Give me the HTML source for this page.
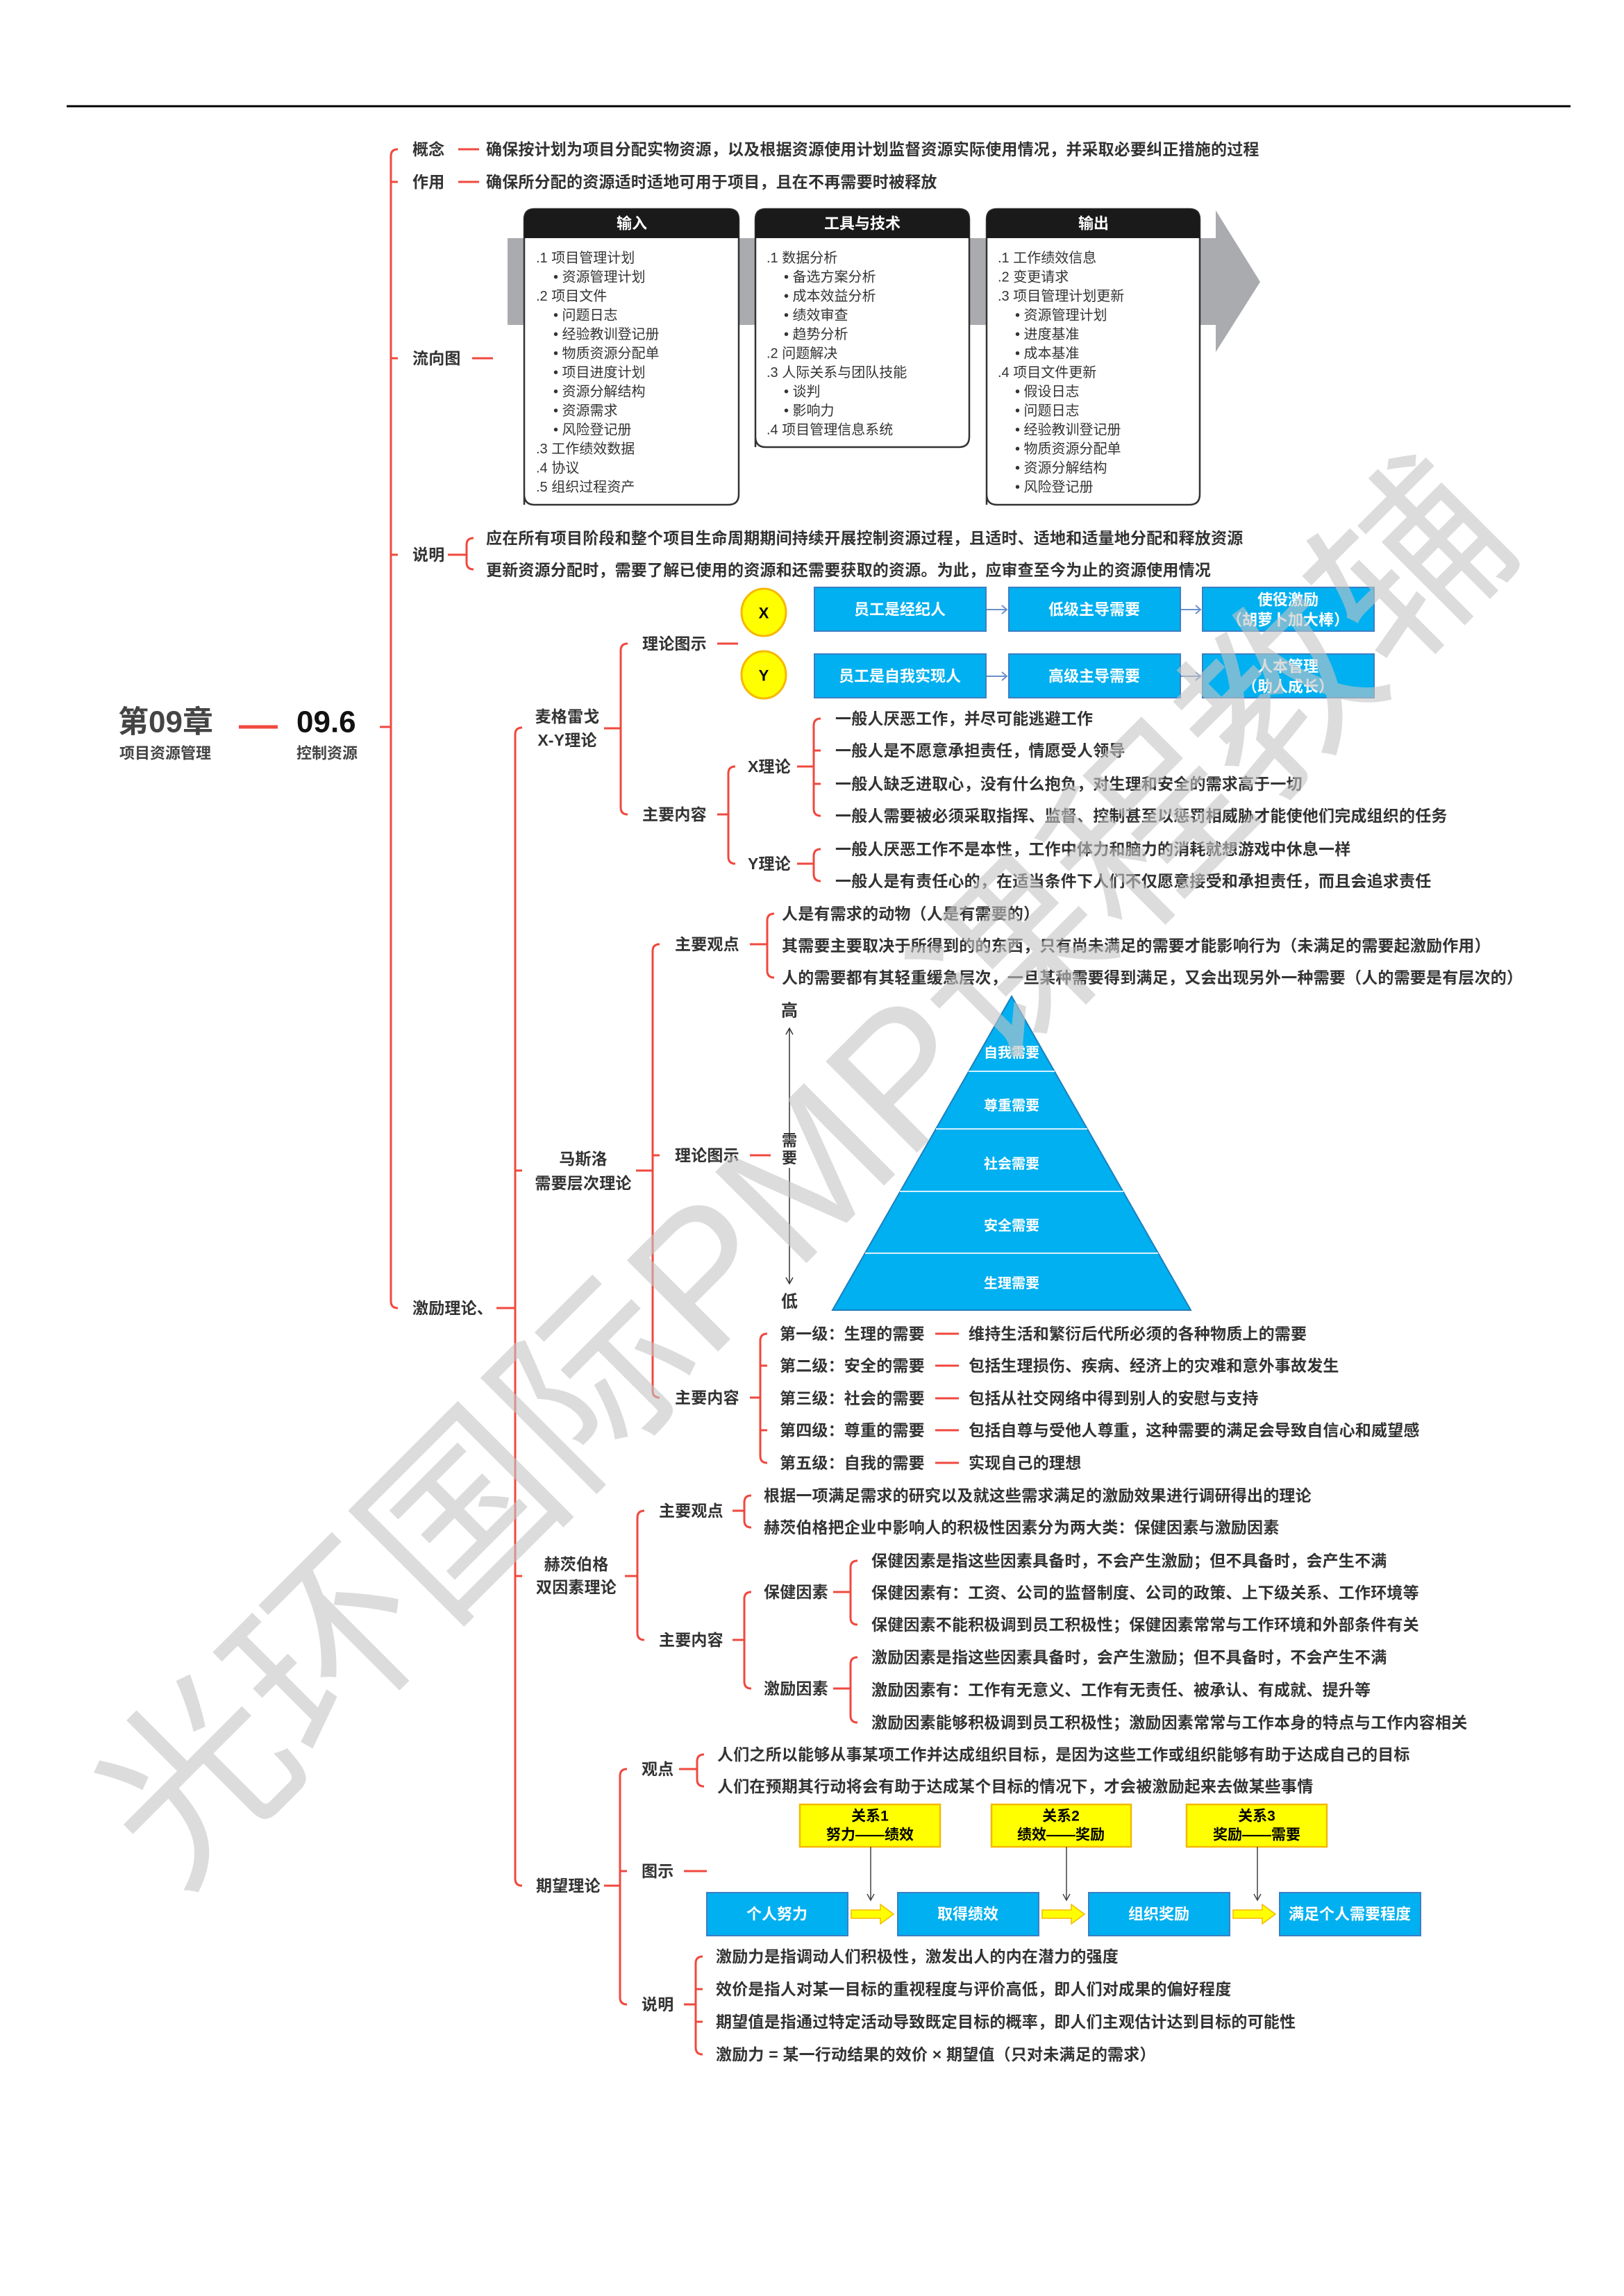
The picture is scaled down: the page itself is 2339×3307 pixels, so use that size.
<!DOCTYPE html>
<html><head><meta charset="utf-8"><style>
html,body{margin:0;padding:0;background:#fff;}
svg{display:block;}
text{font-family:"Liberation Sans","Noto Sans CJK SC",sans-serif;}
.t{font-size:23px;fill:#333;font-weight:bold;letter-spacing:0.2px;dominant-baseline:central;}
.s{font-size:20px;fill:#333;dominant-baseline:central;}
.w{font-size:22px;fill:#fff;font-weight:bold;dominant-baseline:central;text-anchor:middle;}
.k{font-size:22px;fill:#000;font-weight:bold;dominant-baseline:central;text-anchor:middle;}
.r{stroke:#f0483e;stroke-width:3;fill:none;}
</style></head><body>
<svg width="2339" height="3307" viewBox="0 0 2339 3307" xmlns="http://www.w3.org/2000/svg">
<line x1="96" y1="153" x2="2262" y2="153" stroke="#000" stroke-width="3"/>

<!-- root -->
<text x="170" y="1040" style="font-size:44px;font-weight:bold;fill:#444;dominant-baseline:central">第09章</text>
<text x="172" y="1085" style="font-size:22px;font-weight:bold;fill:#444;dominant-baseline:central">项目资源管理</text>
<line x1="344" y1="1047" x2="400" y2="1047" stroke="#f0483e" stroke-width="5"/>
<text x="427" y="1040" style="font-size:44px;font-weight:bold;fill:#111;dominant-baseline:central">09.6</text>
<text x="427" y="1085" style="font-size:22px;font-weight:bold;fill:#444;dominant-baseline:central">控制资源</text>
<line x1="547" y1="1047" x2="563" y2="1047" class="r"/>

<!-- main bracket -->
<path class="r" d="M573 215 Q563 215 563 225 V1874 Q563 1884 573 1884"/>
<line class="r" x1="563" y1="262" x2="573" y2="262"/>
<line class="r" x1="563" y1="516" x2="573" y2="516"/>
<line class="r" x1="563" y1="799" x2="573" y2="799"/>
<text class="t" x="594" y="215">概念</text>
<line class="r" x1="660" y1="215" x2="690" y2="215"/>
<text class="t" x="700" y="215">确保按计划为项目分配实物资源，以及根据资源使用计划监督资源实际使用情况，并采取必要纠正措施的过程</text>
<text class="t" x="594" y="262">作用</text>
<line class="r" x1="660" y1="262" x2="690" y2="262"/>
<text class="t" x="700" y="262">确保所分配的资源适时适地可用于项目，且在不再需要时被释放</text>
<text class="t" x="594" y="516">流向图</text>
<line class="r" x1="680" y1="516" x2="710" y2="516"/>
<text class="t" x="594" y="799">说明</text>
<line class="r" x1="645" y1="799" x2="672" y2="799"/>
<path class="r" d="M682 775 Q672 775 672 785 V810 Q672 820 682 820"/>
<text class="t" x="700" y="775">应在所有项目阶段和整个项目生命周期期间持续开展控制资源过程，且适时、适地和适量地分配和释放资源</text>
<text class="t" x="700" y="821">更新资源分配时，需要了解已使用的资源和还需要获取的资源。为此，应审查至今为止的资源使用情况</text>

<!-- flow diagram -->
<polygon points="731,343 1751,343 1751,303 1815,406 1751,507 1751,468 731,468" fill="#a9abae"/>
<g>
<path d="M755 727 V316 Q755 301 770 301 H1049 Q1064 301 1064 316 V712 Q1064 727 1049 727 H770 Q755 727 755 712 Z" fill="#fff" stroke="#333" stroke-width="2.5"/>
<path d="M755 343 V316 Q755 301 770 301 H1049 Q1064 301 1064 316 V343 Z" fill="#1a1a1a"/>
<text class="w" x="910" y="322">输入</text>
<path d="M1088 644 V316 Q1088 301 1103 301 H1381 Q1396 301 1396 316 V629 Q1396 644 1381 644 H1103 Q1088 644 1088 629 Z" fill="#fff" stroke="#333" stroke-width="2.5"/>
<path d="M1088 343 V316 Q1088 301 1103 301 H1381 Q1396 301 1396 316 V343 Z" fill="#1a1a1a"/>
<text class="w" x="1242" y="322">工具与技术</text>
<path d="M1421 727 V316 Q1421 301 1436 301 H1713 Q1728 301 1728 316 V712 Q1728 727 1713 727 H1436 Q1421 727 1421 712 Z" fill="#fff" stroke="#333" stroke-width="2.5"/>
<path d="M1421 343 V316 Q1421 301 1436 301 H1713 Q1728 301 1728 316 V343 Z" fill="#1a1a1a"/>
<text class="w" x="1575" y="322">输出</text>
</g>
<g>
<text class="s" x="772" y="372">.1 项目管理计划</text>
<text class="s" x="797" y="399.5">• 资源管理计划</text>
<text class="s" x="772" y="427">.2 项目文件</text>
<text class="s" x="797" y="454.5">• 问题日志</text>
<text class="s" x="797" y="482">• 经验教训登记册</text>
<text class="s" x="797" y="509.5">• 物质资源分配单</text>
<text class="s" x="797" y="537">• 项目进度计划</text>
<text class="s" x="797" y="564.5">• 资源分解结构</text>
<text class="s" x="797" y="592">• 资源需求</text>
<text class="s" x="797" y="619.5">• 风险登记册</text>
<text class="s" x="772" y="647">.3 工作绩效数据</text>
<text class="s" x="772" y="674.5">.4 协议</text>
<text class="s" x="772" y="702">.5 组织过程资产</text>

<text class="s" x="1104" y="372">.1 数据分析</text>
<text class="s" x="1129" y="399.5">• 备选方案分析</text>
<text class="s" x="1129" y="427">• 成本效益分析</text>
<text class="s" x="1129" y="454.5">• 绩效审查</text>
<text class="s" x="1129" y="482">• 趋势分析</text>
<text class="s" x="1104" y="509.5">.2 问题解决</text>
<text class="s" x="1104" y="537">.3 人际关系与团队技能</text>
<text class="s" x="1129" y="564.5">• 谈判</text>
<text class="s" x="1129" y="592">• 影响力</text>
<text class="s" x="1104" y="619.5">.4 项目管理信息系统</text>

<text class="s" x="1437" y="372">.1 工作绩效信息</text>
<text class="s" x="1437" y="399.5">.2 变更请求</text>
<text class="s" x="1437" y="427">.3 项目管理计划更新</text>
<text class="s" x="1462" y="454.5">• 资源管理计划</text>
<text class="s" x="1462" y="482">• 进度基准</text>
<text class="s" x="1462" y="509.5">• 成本基准</text>
<text class="s" x="1437" y="537">.4 项目文件更新</text>
<text class="s" x="1462" y="564.5">• 假设日志</text>
<text class="s" x="1462" y="592">• 问题日志</text>
<text class="s" x="1462" y="619.5">• 经验教训登记册</text>
<text class="s" x="1462" y="647">• 物质资源分配单</text>
<text class="s" x="1462" y="674.5">• 资源分解结构</text>
<text class="s" x="1462" y="702">• 风险登记册</text>
</g>

<!-- 激励理论 -->
<text class="t" x="594" y="1884">激励理论、</text>
<line class="r" x1="715" y1="1884" x2="742" y2="1884"/>
<path class="r" d="M752 1048 Q742 1048 742 1058 V2706 Q742 2716 752 2716"/>
<line class="r" x1="742" y1="1686" x2="752" y2="1686"/>
<line class="r" x1="742" y1="2270" x2="752" y2="2270"/>

<!-- McGregor -->
<text class="t" x="817" y="1032" style="text-anchor:middle">麦格雷戈</text>
<text class="t" x="817" y="1066" style="text-anchor:middle">X-Y理论</text>
<line class="r" x1="870" y1="1049" x2="894" y2="1049"/>
<path class="r" d="M904 927 Q894 927 894 937 V1163 Q894 1173 904 1173"/>
<text class="t" x="925" y="927">理论图示</text>
<line class="r" x1="1033" y1="927" x2="1063" y2="927"/>
<text class="t" x="925" y="1173">主要内容</text>
<line class="r" x1="1033" y1="1173" x2="1049" y2="1173"/>
<path class="r" d="M1059 1104 Q1049 1104 1049 1114 V1234 Q1049 1244 1059 1244"/>
<text class="t" x="1077" y="1104">X理论</text>
<line class="r" x1="1148" y1="1104" x2="1172" y2="1104"/>
<path class="r" d="M1182 1035 Q1172 1035 1172 1045 V1165 Q1172 1175 1182 1175"/>
<line class="r" x1="1172" y1="1081" x2="1182" y2="1081"/>
<line class="r" x1="1172" y1="1129" x2="1182" y2="1129"/>
<text class="t" x="1203" y="1035">一般人厌恶工作，并尽可能逃避工作</text>
<text class="t" x="1203" y="1081">一般人是不愿意承担责任，情愿受人领导</text>
<text class="t" x="1203" y="1129">一般人缺乏进取心，没有什么抱负，对生理和安全的需求高于一切</text>
<text class="t" x="1203" y="1175">一般人需要被必须采取指挥、监督、控制甚至以惩罚相威胁才能使他们完成组织的任务</text>
<text class="t" x="1077" y="1244">Y理论</text>
<line class="r" x1="1148" y1="1244" x2="1172" y2="1244"/>
<path class="r" d="M1182 1223 Q1172 1223 1172 1233 V1259 Q1172 1269 1182 1269"/>
<text class="t" x="1203" y="1223">一般人厌恶工作不是本性，工作中体力和脑力的消耗就想游戏中休息一样</text>
<text class="t" x="1203" y="1269">一般人是有责任心的，在适当条件下人们不仅愿意接受和承担责任，而且会追求责任</text>

<!-- XY diagram -->
<ellipse cx="1100" cy="882" rx="32" ry="34" fill="#ffff00" stroke="#f5b800" stroke-width="3"/>
<text class="k" x="1100" y="883">X</text>
<ellipse cx="1100" cy="972" rx="32" ry="34" fill="#ffff00" stroke="#f5b800" stroke-width="3"/>
<text class="k" x="1100" y="973">Y</text>
<g fill="#00b0f0" stroke="#3b7fc4" stroke-width="2">
<rect x="1173" y="846" width="247" height="63"/><rect x="1453" y="846" width="247" height="63"/><rect x="1732" y="846" width="247" height="63"/>
<rect x="1173" y="942" width="247" height="63"/><rect x="1453" y="942" width="247" height="63"/><rect x="1732" y="942" width="247" height="63"/>
</g>
<g stroke="#6b8fc9" stroke-width="2" fill="none">
<path d="M1421 878 H1450 M1443 872 L1450 878 L1443 884"/>
<path d="M1701 878 H1729 M1722 872 L1729 878 L1722 884"/>
<path d="M1421 974 H1450 M1443 968 L1450 974 L1443 980"/>
<path d="M1701 974 H1729 M1722 968 L1729 974 L1722 980"/>
</g>
<text class="w" x="1296" y="878">员工是经纪人</text>
<text class="w" x="1576" y="878">低级主导需要</text>
<text class="w" x="1855" y="864">使役激励</text>
<text class="w" x="1855" y="893">（胡萝卜加大棒）</text>
<text class="w" x="1296" y="974">员工是自我实现人</text>
<text class="w" x="1576" y="974">高级主导需要</text>
<text class="w" x="1855" y="960">人本管理</text>
<text class="w" x="1855" y="989">（助人成长）</text>

<!-- Maslow -->
<text class="t" x="840" y="1669" style="text-anchor:middle">马斯洛</text>
<text class="t" x="840" y="1704" style="text-anchor:middle">需要层次理论</text>
<line class="r" x1="916" y1="1686" x2="940" y2="1686"/>
<path class="r" d="M950 1360 Q940 1360 940 1370 V2003 Q940 2013 950 2013"/>
<line class="r" x1="940" y1="1664" x2="950" y2="1664"/>
<text class="t" x="972" y="1360">主要观点</text>
<line class="r" x1="1080" y1="1360" x2="1105" y2="1360"/>
<path class="r" d="M1115 1316 Q1105 1316 1105 1326 V1398 Q1105 1408 1115 1408"/>
<text class="t" x="1126" y="1316">人是有需求的动物（人是有需要的）</text>
<text class="t" x="1126" y="1362">其需要主要取决于所得到的的东西，只有尚未满足的需要才能影响行为（未满足的需要起激励作用）</text>
<text class="t" x="1126" y="1408">人的需要都有其轻重缓急层次，一旦某种需要得到满足，又会出现另外一种需要（人的需要是有层次的）</text>
<text class="t" x="972" y="1664">理论图示</text>
<line class="r" x1="1080" y1="1664" x2="1110" y2="1664"/>

<text x="1137" y="1456" style="font-size:24px;font-weight:bold;fill:#333;text-anchor:middle;dominant-baseline:central">高</text>
<text x="1137" y="1875" style="font-size:24px;font-weight:bold;fill:#333;text-anchor:middle;dominant-baseline:central">低</text>
<line x1="1137" y1="1482" x2="1137" y2="1632" stroke="#333" stroke-width="1.5"/>
<line x1="1137" y1="1682" x2="1137" y2="1848" stroke="#333" stroke-width="1.5"/>
<path d="M1132 1490 L1137 1481 L1142 1490 M1132 1840 L1137 1849 L1142 1840" stroke="#333" stroke-width="1.5" fill="none"/>
<text x="1137" y="1643" style="font-size:22px;font-weight:bold;fill:#333;text-anchor:middle;dominant-baseline:central">需</text>
<text x="1137" y="1668" style="font-size:22px;font-weight:bold;fill:#333;text-anchor:middle;dominant-baseline:central">要</text>

<polygon points="1457,1435 1715,1887 1199,1887" fill="#00b0f0" stroke="#1d7fc0" stroke-width="2"/>
<g stroke="#d8f1ff" stroke-width="2">
<line x1="1395" y1="1543" x2="1519" y2="1543"/>
<line x1="1348" y1="1626" x2="1566" y2="1626"/>
<line x1="1296" y1="1716" x2="1618" y2="1716"/>
<line x1="1246" y1="1805" x2="1668" y2="1805"/>
</g>
<text class="w" x="1457" y="1517" style="font-size:20px">自我需要</text>
<text class="w" x="1457" y="1593" style="font-size:20px">尊重需要</text>
<text class="w" x="1457" y="1677" style="font-size:20px">社会需要</text>
<text class="w" x="1457" y="1766" style="font-size:20px">安全需要</text>
<text class="w" x="1457" y="1849" style="font-size:20px">生理需要</text>

<text class="t" x="972" y="2013">主要内容</text>
<line class="r" x1="1080" y1="2013" x2="1095" y2="2013"/>
<path class="r" d="M1105 1921 Q1095 1921 1095 1931 V2097 Q1095 2107 1105 2107"/>
<line class="r" x1="1095" y1="1967" x2="1105" y2="1967"/>
<line class="r" x1="1095" y1="2060" x2="1105" y2="2060"/>
<g>
<text class="t" x="1123" y="1921">第一级：生理的需要</text>
<text class="t" x="1123" y="1967">第二级：安全的需要</text>
<text class="t" x="1123" y="2014">第三级：社会的需要</text>
<text class="t" x="1123" y="2060">第四级：尊重的需要</text>
<text class="t" x="1123" y="2107">第五级：自我的需要</text>
<line class="r" x1="1347" y1="1921" x2="1381" y2="1921"/>
<line class="r" x1="1347" y1="1967" x2="1381" y2="1967"/>
<line class="r" x1="1347" y1="2014" x2="1381" y2="2014"/>
<line class="r" x1="1347" y1="2060" x2="1381" y2="2060"/>
<line class="r" x1="1347" y1="2107" x2="1381" y2="2107"/>
<text class="t" x="1395" y="1921">维持生活和繁衍后代所必须的各种物质上的需要</text>
<text class="t" x="1395" y="1967">包括生理损伤、疾病、经济上的灾难和意外事故发生</text>
<text class="t" x="1395" y="2014">包括从社交网络中得到别人的安慰与支持</text>
<text class="t" x="1395" y="2060">包括自尊与受他人尊重，这种需要的满足会导致自信心和威望感</text>
<text class="t" x="1395" y="2107">实现自己的理想</text>
</g>

<!-- Herzberg -->
<text class="t" x="830" y="2253" style="text-anchor:middle">赫茨伯格</text>
<text class="t" x="830" y="2286" style="text-anchor:middle">双因素理论</text>
<line class="r" x1="900" y1="2270" x2="918" y2="2270"/>
<path class="r" d="M928 2176 Q918 2176 918 2186 V2352 Q918 2362 928 2362"/>
<text class="t" x="949" y="2176">主要观点</text>
<line class="r" x1="1055" y1="2176" x2="1072" y2="2176"/>
<path class="r" d="M1082 2154 Q1072 2154 1072 2164 V2190 Q1072 2200 1082 2200"/>
<text class="t" x="1100" y="2154">根据一项满足需求的研究以及就这些需求满足的激励效果进行调研得出的理论</text>
<text class="t" x="1100" y="2200">赫茨伯格把企业中影响人的积极性因素分为两大类：保健因素与激励因素</text>
<text class="t" x="949" y="2362">主要内容</text>
<line class="r" x1="1055" y1="2362" x2="1072" y2="2362"/>
<path class="r" d="M1082 2293 Q1072 2293 1072 2303 V2422 Q1072 2432 1082 2432"/>
<text class="t" x="1100" y="2293">保健因素</text>
<line class="r" x1="1200" y1="2293" x2="1225" y2="2293"/>
<path class="r" d="M1235 2248 Q1225 2248 1225 2258 V2330 Q1225 2340 1235 2340"/>
<text class="t" x="1255" y="2248">保健因素是指这些因素具备时，不会产生激励；但不具备时，会产生不满</text>
<text class="t" x="1255" y="2294">保健因素有：工资、公司的监督制度、公司的政策、上下级关系、工作环境等</text>
<text class="t" x="1255" y="2340">保健因素不能积极调到员工积极性；保健因素常常与工作环境和外部条件有关</text>
<text class="t" x="1100" y="2432">激励因素</text>
<line class="r" x1="1200" y1="2432" x2="1225" y2="2432"/>
<path class="r" d="M1235 2387 Q1225 2387 1225 2397 V2471 Q1225 2481 1235 2481"/>
<text class="t" x="1255" y="2387">激励因素是指这些因素具备时，会产生激励；但不具备时，不会产生不满</text>
<text class="t" x="1255" y="2434">激励因素有：工作有无意义、工作有无责任、被承认、有成就、提升等</text>
<text class="t" x="1255" y="2481">激励因素能够积极调到员工积极性；激励因素常常与工作本身的特点与工作内容相关</text>

<!-- Expectancy -->
<text class="t" x="772" y="2716">期望理论</text>
<line class="r" x1="870" y1="2716" x2="893" y2="2716"/>
<path class="r" d="M903 2548 Q893 2548 893 2558 V2877 Q893 2887 903 2887"/>
<line class="r" x1="893" y1="2695" x2="903" y2="2695"/>
<text class="t" x="924" y="2548">观点</text>
<line class="r" x1="978" y1="2548" x2="1004" y2="2548"/>
<path class="r" d="M1014 2527 Q1004 2527 1004 2537 V2563 Q1004 2573 1014 2573"/>
<text class="t" x="1033" y="2527">人们之所以能够从事某项工作并达成组织目标，是因为这些工作或组织能够有助于达成自己的目标</text>
<text class="t" x="1033" y="2573">人们在预期其行动将会有助于达成某个目标的情况下，才会被激励起来去做某些事情</text>
<text class="t" x="924" y="2695">图示</text>
<line class="r" x1="985" y1="2695" x2="1018" y2="2695"/>
<g fill="#ffff00" stroke="#f5b800" stroke-width="2.5">
<rect x="1152" y="2599" width="202" height="61"/><rect x="1428" y="2599" width="201" height="61"/><rect x="1709" y="2599" width="202" height="61"/>
</g>
<text class="k" x="1253" y="2616" style="font-size:21px">关系1</text>
<text class="k" x="1253" y="2643" style="font-size:21px">努力——绩效</text>
<text class="k" x="1528" y="2616" style="font-size:21px">关系2</text>
<text class="k" x="1528" y="2643" style="font-size:21px">绩效——奖励</text>
<text class="k" x="1810" y="2616" style="font-size:21px">关系3</text>
<text class="k" x="1810" y="2643" style="font-size:21px">奖励——需要</text>
<g stroke="#444" stroke-width="1.5" fill="none">
<path d="M1254 2660 V2737 M1249 2728 L1254 2737 L1259 2728"/>
<path d="M1536 2660 V2737 M1531 2728 L1536 2737 L1541 2728"/>
<path d="M1811 2660 V2737 M1806 2728 L1811 2737 L1816 2728"/>
</g>
<g fill="#00b0f0" stroke="#3b7fc4" stroke-width="2">
<rect x="1018" y="2726" width="203" height="62"/><rect x="1293" y="2726" width="203" height="62"/><rect x="1568" y="2726" width="203" height="62"/><rect x="1843" y="2726" width="203" height="62"/>
</g>
<g fill="#ffff00" stroke="#f5b800" stroke-width="1.5">
<polygon points="1226,2751 1268,2751 1268,2743 1287,2757 1268,2771 1268,2763 1226,2763"/>
<polygon points="1501,2751 1543,2751 1543,2743 1562,2757 1543,2771 1543,2763 1501,2763"/>
<polygon points="1776,2751 1818,2751 1818,2743 1837,2757 1818,2771 1818,2763 1776,2763"/>
</g>
<text class="w" x="1119" y="2757">个人努力</text>
<text class="w" x="1394" y="2757">取得绩效</text>
<text class="w" x="1669" y="2757">组织奖励</text>
<text class="w" x="1944" y="2757">满足个人需要程度</text>

<text class="t" x="924" y="2887">说明</text>
<line class="r" x1="985" y1="2887" x2="1002" y2="2887"/>
<path class="r" d="M1012 2818 Q1002 2818 1002 2828 V2949 Q1002 2959 1012 2959"/>
<line class="r" x1="1002" y1="2865" x2="1012" y2="2865"/>
<line class="r" x1="1002" y1="2912" x2="1012" y2="2912"/>
<text class="t" x="1031" y="2818">激励力是指调动人们积极性，激发出人的内在潜力的强度</text>
<text class="t" x="1031" y="2865">效价是指人对某一目标的重视程度与评价高低，即人们对成果的偏好程度</text>
<text class="t" x="1031" y="2912">期望值是指通过特定活动导致既定目标的概率，即人们主观估计达到目标的可能性</text>
<text class="t" x="1031" y="2959">激励力 = 某一行动结果的效价 × 期望值（只对未满足的需求）</text>

<!-- watermark -->
<text x="1160" y="1690" transform="rotate(-45 1160 1690)" style="font-size:270px;fill:#c4c4c4;fill-opacity:0.6;text-anchor:middle;dominant-baseline:central;font-family:'Liberation Sans','Noto Sans CJK SC',sans-serif">光环国际PMP课程教辅</text>
</svg>
</body></html>
